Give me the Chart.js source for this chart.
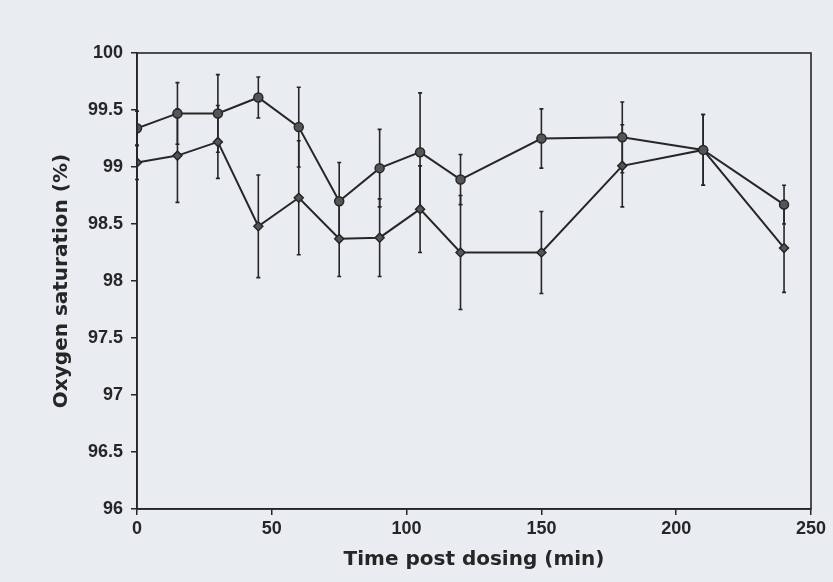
<!DOCTYPE html>
<html>
<head>
<meta charset="utf-8">
<script src="https://cdn.jsdelivr.net/npm/chart.js@4"></script>
<style>
  html, body { margin: 0; padding: 0; background: #e9ecf1; }
  #wrap { width: 833px; height: 582px; }
</style>
</head>
<body>
<div id="wrap"><canvas id="oxyChart" width="833" height="582"></canvas></div>
<script>
// time points (min)
const times = [0, 15, 30, 45, 60, 75, 90, 105, 120, 150, 180, 210, 240]

// upper series (circles) and its error bars
const upperVals = [99.34, 99.47, 99.47, 99.61, 99.35, 98.70, 98.99, 99.13, 98.89, 99.25, 99.26, 99.15, 98.67]
const upperErr  = [0.15, 0.27, 0.34, 0.18, 0.35, 0.34, 0.34, 0.52, 0.22, 0.26, 0.31, 0.31, 0.17]

// lower series (diamonds) and its error bars
const lowerVals = [99.04, 99.10, 99.22, 98.48, 98.73, 98.37, 98.38, 98.63, 98.25, 98.25, 99.01, 99.15, 98.29]
const lowerErr  = [0.15, 0.41, 0.32, 0.45, 0.50, 0.33, 0.34, 0.38, 0.50, 0.36, 0.36, 0.31, 0.39]

const xTicks = [0, 50, 100, 150, 200, 250]
const yTicks = [96, 96.5, 97, 97.5, 98, 98.5, 99, 99.5, 100]

const INK = '#262626'
const tickFont  = { family: "'Liberation Sans', Arial, sans-serif", size: 18, weight: 'bold' }
const titleFont = { family: "'DejaVu Sans', Arial, sans-serif", size: 20, weight: 'bold' }

// error bars, drawn through the y scale
const errorBars = {
  id: 'errorBars',
  beforeDatasetsDraw(chart) {
    const { ctx, scales: { y } } = chart
    ctx.save()
    ctx.strokeStyle = INK
    ctx.lineWidth = 1.6
    chart.data.datasets.forEach((ds, di) => {
      const meta = chart.getDatasetMeta(di)
      meta.data.forEach((pt, i) => {
        const v = ds.data[i].y, e = ds.errors[i]
        const yTop = y.getPixelForValue(v + e)
        const yBot = y.getPixelForValue(v - e)
        ctx.beginPath()
        ctx.moveTo(pt.x, yTop); ctx.lineTo(pt.x, yBot)
        ctx.moveTo(pt.x - 2, yTop); ctx.lineTo(pt.x + 2, yTop)
        ctx.moveTo(pt.x - 2, yBot); ctx.lineTo(pt.x + 2, yBot)
        ctx.stroke()
      })
    })
    ctx.restore()
  }
}

// closed frame round the plot
const frame = {
  id: 'frame',
  afterDraw(chart) {
    const { ctx, chartArea: a } = chart
    ctx.save()
    ctx.strokeStyle = INK
    ctx.lineWidth = 1.6
    ctx.strokeRect(a.left, a.top, a.right - a.left, a.bottom - a.top)
    ctx.restore()
  }
}

new Chart(document.getElementById('oxyChart'), {
  type: 'line',
  data: {
    datasets: [
      {
        label: 'upper',
        data: times.map((t, i) => ({ x: t, y: upperVals[i] })),
        errors: upperErr,
        borderColor: INK, borderWidth: 2,
        pointStyle: 'circle', pointRadius: 4.5,
        pointBackgroundColor: '#555', pointBorderColor: INK, pointBorderWidth: 1.5,
        tension: 0,
      },
      {
        label: 'lower',
        data: times.map((t, i) => ({ x: t, y: lowerVals[i] })),
        errors: lowerErr,
        borderColor: INK, borderWidth: 2,
        pointStyle: 'rectRot', pointRadius: 4.5,
        pointBackgroundColor: '#555', pointBorderColor: INK, pointBorderWidth: 1.5,
        tension: 0,
      },
    ]
  },
  options: {
    responsive: false,
    animation: false,
    layout: { padding: { top: 53, right: 22, left: 45, bottom: 6 } },
    plugins: { legend: { display: false }, tooltip: { enabled: false } },
    scales: {
      x: {
        type: 'linear', min: 0, max: 250,
        afterBuildTicks: s => { s.ticks = xTicks.map(v => ({ value: v })) },
        afterFit: s => { s.height = 67 },
        ticks: { color: INK, font: tickFont, padding: 3, maxRotation: 0, callback: v => String(v) },
        grid: { drawOnChartArea: false, tickLength: 6, color: INK, lineWidth: 1.5 },
        border: { color: INK, width: 1.6 },
        title: { display: true, text: 'Time post dosing (min)', color: INK, font: titleFont, padding: { top: 0, bottom: 4 } },
      },
      y: {
        min: 96, max: 100,
        afterBuildTicks: s => { s.ticks = yTicks.map(v => ({ value: v })) },
        afterFit: s => { s.width = 92 },
        ticks: { color: INK, font: tickFont, padding: 8, callback: v => String(v) },
        grid: { drawOnChartArea: false, tickLength: 6, color: INK, lineWidth: 1.5 },
        border: { color: INK, width: 1.6 },
        title: { display: true, text: 'Oxygen saturation (%)', color: INK, font: titleFont, padding: { top: 5, bottom: 0 } },
      },
    },
  },
  plugins: [errorBars, frame],
})
</script>
</body>
</html>
